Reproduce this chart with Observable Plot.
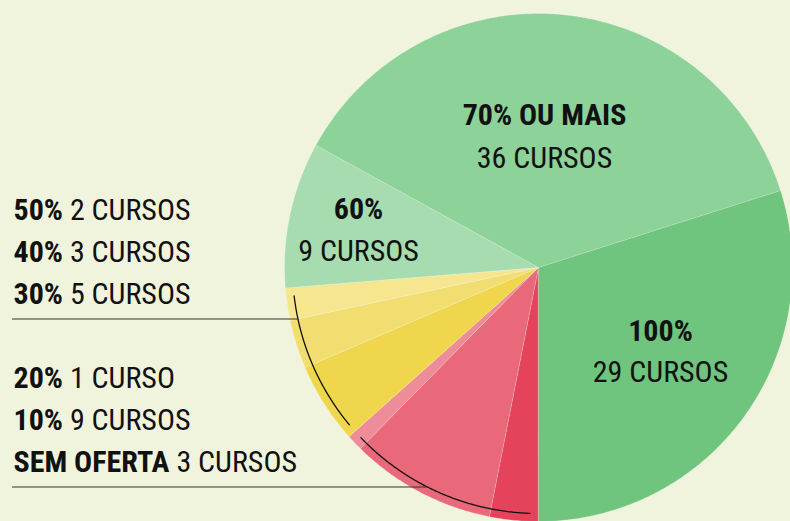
<!DOCTYPE html>
<html>
<head>
<meta charset="utf-8">
<script src="https://cdn.jsdelivr.net/npm/d3@7"></script>
<script src="https://cdn.jsdelivr.net/npm/@observablehq/plot@0.6"></script>
<style>
  html, body { margin: 0; padding: 0; background: #f1f4dc; overflow: hidden; }
  #chart svg { display: block; }
  #chart text { font-stretch: condensed; }
</style>
</head>
<body>
<div id="chart"></div>
<script>
// ---- data ----
const categories = ["SEM OFERTA", "10%", "20%", "30%", "40%", "50%", "60%", "70% OU MAIS", "100%"];
const courses = [3, 9, 1, 5, 3, 2, 9, 36, 29];
const courseLabels = ["3 CURSOS", "9 CURSOS", "1 CURSO", "5 CURSOS", "3 CURSOS", "2 CURSOS", "9 CURSOS", "36 CURSOS", "29 CURSOS"];
// left legend groups (indices into categories, listed top to bottom)
const legendUpper = [5, 4, 3];
const legendLower = [2, 1, 0];
// categories labelled inside the pie
const insideLabelled = [7, 6, 8];

// ---- style / layout ----
const palette = ["#e4435b", "#e9697b", "#ef8c99", "#efd64c", "#f2dd70", "#f5e68f", "#a6dcb0", "#8dd299", "#6fc47e"];
const W = 790, H = 521;
const cx = 538, cy = 267, R = 254, arcR = 246, arcPad = 2 * Math.PI / 180;
const FONT = "'Roboto Condensed', Roboto, sans-serif";
const FS = 30;
const legendX = 13;
const upperBaselines = [219, 261, 303];
const lowerBaselines = [387, 429, 471];
const insideLayout = {7: {x: 544, y: [124, 167]}, 6: {x: 358, y: [218, 260]}, 8: {x: 660, y: [340, 381]}};

// ---- pie geometry from data ----
const arcs = d3.pie().sort(null).startAngle(Math.PI).endAngle(3 * Math.PI)(courses);
const pt = (a, r) => ({x: cx + r * Math.sin(a), y: cy - r * Math.cos(a)});
const slicePts = arcs.flatMap((a, i) => {
  const pts = [{...pt(0, 0), k: i}];
  const n = Math.max(2, Math.ceil((a.endAngle - a.startAngle) / (Math.PI / 360)));
  for (let j = 0; j <= n; j++) {
    const ang = a.startAngle + (a.endAngle - a.startAngle) * j / n;
    pts.push({...pt(ang, R), k: i});
  }
  return pts;
});

function groupArc(idxs, g) {
  const a0 = d3.min(idxs, i => arcs[i].startAngle) + arcPad;
  const a1 = d3.max(idxs, i => arcs[i].endAngle) - arcPad;
  const pts = [];
  const n = 120;
  for (let j = 0; j <= n; j++) pts.push({...pt(a0 + (a1 - a0) * j / n, arcR), g});
  return pts;
}
const arcLines = [...groupArc(legendUpper, 0), ...groupArc(legendLower, 1)];

// horizontal leader lines: just below each legend group, reaching the arc
function leader(baselines, g) {
  const y = baselines[baselines.length - 1] + 15.5;
  const dy = y - cy;
  const x = cx - Math.sqrt(arcR * arcR - dy * dy);
  return [{x: legendX - 1, y, g}, {x, y, g}];
}
const leaders = [...leader(upperBaselines, 0), ...leader(lowerBaselines, 1)];

// legend text rows
const ctx = document.createElement("canvas").getContext("2d");
function boldWidth(s) { ctx.font = `bold ${FS}px ${FONT}`; return ctx.measureText(s + " ").width; }
const legendRows = [
  ...legendUpper.map((k, i) => ({k, y: upperBaselines[i]})),
  ...legendLower.map((k, i) => ({k, y: lowerBaselines[i]}))
].map(d => ({...d, bold: categories[d.k], rest: courseLabels[d.k], x2: legendX + boldWidth(categories[d.k])}));

const insideRows = insideLabelled.map(k => ({k, x: insideLayout[k].x, y1: insideLayout[k].y[0], y2: insideLayout[k].y[1], bold: categories[k], rest: courseLabels[k]}));

const textCommon = {fontFamily: FONT, fontSize: FS, fill: "#111", lineAnchor: "bottom"};

const plot = Plot.plot({
  width: W, height: H, margin: 0,
  x: {domain: [0, W], range: [0, W], axis: null},
  y: {domain: [0, H], range: [0, H], axis: null},
  color: {type: "identity"},
  style: {background: "#f1f4dc", fontFamily: FONT, overflow: "hidden"},
  marks: [
    Plot.line(slicePts, {x: "x", y: "y", z: "k", fill: d => palette[d.k], stroke: "#ffffff", strokeOpacity: 0.35, strokeWidth: 0.6, curve: "linear-closed"}),
    Plot.line(arcLines, {x: "x", y: "y", z: "g", stroke: "#111", strokeWidth: 1.3}),
    Plot.line(leaders, {x: "x", y: "y", z: "g", stroke: "#333", strokeWidth: 1.2}),
    Plot.text(legendRows, {x: legendX, y: "y", text: "bold", textAnchor: "start", fontWeight: "bold", ...textCommon}),
    Plot.text(legendRows, {x: "x2", y: "y", text: "rest", textAnchor: "start", ...textCommon}),
    Plot.text(insideRows, {x: "x", y: "y1", text: "bold", textAnchor: "middle", fontWeight: "bold", ...textCommon}),
    Plot.text(insideRows, {x: "x", y: "y2", text: "rest", textAnchor: "middle", ...textCommon})
  ]
});
document.getElementById("chart").append(plot);
</script>
</body>
</html>
